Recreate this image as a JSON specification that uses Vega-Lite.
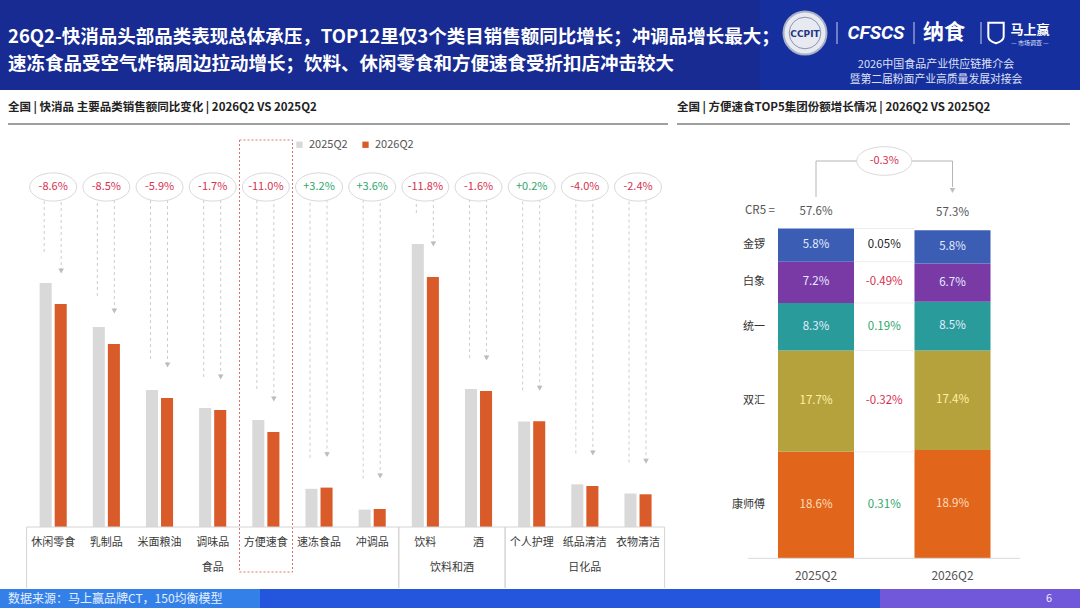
{
  "$schema": "https://vega.github.io/schema/vega-lite/v6.json",
  "padding": 0,
  "spacing": 0,
  "background": "white",
  "config": {
    "view": {"stroke": null},
    "font": "Noto Sans CJK SC"
  },
  "datasets": {
    "sales": [
      {"cat": "休闲零食", "series": "2025Q2", "value": 244}, {"cat": "休闲零食", "series": "2026Q2", "value": 223},
      {"cat": "乳制品", "series": "2025Q2", "value": 200}, {"cat": "乳制品", "series": "2026Q2", "value": 183},
      {"cat": "米面粮油", "series": "2025Q2", "value": 137}, {"cat": "米面粮油", "series": "2026Q2", "value": 129},
      {"cat": "调味品", "series": "2025Q2", "value": 119}, {"cat": "调味品", "series": "2026Q2", "value": 117},
      {"cat": "方便速食", "series": "2025Q2", "value": 107}, {"cat": "方便速食", "series": "2026Q2", "value": 95},
      {"cat": "速冻食品", "series": "2025Q2", "value": 38.2}, {"cat": "速冻食品", "series": "2026Q2", "value": 39.4},
      {"cat": "冲调品", "series": "2025Q2", "value": 17.4}, {"cat": "冲调品", "series": "2026Q2", "value": 18},
      {"cat": "饮料", "series": "2025Q2", "value": 283}, {"cat": "饮料", "series": "2026Q2", "value": 250},
      {"cat": "酒", "series": "2025Q2", "value": 138}, {"cat": "酒", "series": "2026Q2", "value": 136},
      {"cat": "个人护理", "series": "2025Q2", "value": 105.6}, {"cat": "个人护理", "series": "2026Q2", "value": 105.8},
      {"cat": "纸品清洁", "series": "2025Q2", "value": 42.7}, {"cat": "纸品清洁", "series": "2026Q2", "value": 41},
      {"cat": "衣物清洁", "series": "2025Q2", "value": 33.5}, {"cat": "衣物清洁", "series": "2026Q2", "value": 32.7}
    ],
    "yoy": [
      {"cat": "休闲零食", "group": "食品", "chg": -0.086},
      {"cat": "乳制品", "group": "食品", "chg": -0.085},
      {"cat": "米面粮油", "group": "食品", "chg": -0.059},
      {"cat": "调味品", "group": "食品", "chg": -0.017},
      {"cat": "方便速食", "group": "食品", "chg": -0.110},
      {"cat": "速冻食品", "group": "食品", "chg": 0.032},
      {"cat": "冲调品", "group": "食品", "chg": 0.036},
      {"cat": "饮料", "group": "饮料和酒", "chg": -0.118},
      {"cat": "酒", "group": "饮料和酒", "chg": -0.016},
      {"cat": "个人护理", "group": "日化品", "chg": 0.002},
      {"cat": "纸品清洁", "group": "日化品", "chg": -0.040},
      {"cat": "衣物清洁", "group": "日化品", "chg": -0.024}
    ],
    "groups": [
      {"group": "食品", "first": "休闲零食", "last": "冲调品", "anchor": "调味品"},
      {"group": "饮料和酒", "first": "饮料", "last": "酒", "anchor": "饮料"},
      {"group": "日化品", "first": "个人护理", "last": "衣物清洁", "anchor": "纸品清洁"}
    ],
    "share": [
      {"year": "2025Q2", "brand": "康师傅", "rank": 1, "share": 0.186, "chg": 0.0031},
      {"year": "2025Q2", "brand": "双汇", "rank": 2, "share": 0.177, "chg": -0.0032},
      {"year": "2025Q2", "brand": "统一", "rank": 3, "share": 0.083, "chg": 0.0019},
      {"year": "2025Q2", "brand": "白象", "rank": 4, "share": 0.072, "chg": -0.0049},
      {"year": "2025Q2", "brand": "金锣", "rank": 5, "share": 0.058, "chg": 0.0005},
      {"year": "2026Q2", "brand": "康师傅", "rank": 1, "share": 0.189, "chg": 0.0031},
      {"year": "2026Q2", "brand": "双汇", "rank": 2, "share": 0.174, "chg": -0.0032},
      {"year": "2026Q2", "brand": "统一", "rank": 3, "share": 0.085, "chg": 0.0019},
      {"year": "2026Q2", "brand": "白象", "rank": 4, "share": 0.067, "chg": -0.0049},
      {"year": "2026Q2", "brand": "金锣", "rank": 5, "share": 0.058, "chg": 0.0005}
    ],
    "cr5": [
      {"year": "2025Q2", "cr5": 0.576, "chg": -0.003},
      {"year": "2026Q2", "cr5": 0.573, "chg": -0.003}
    ]
  },
  "vconcat": [
    {
      "width": 1080,
      "height": 90,
      "data": {"values": [{}]},
      "layer": [
        {
          "mark": {"type": "rect", "color": "#182b92"},
          "encoding": {"x": {"value": 0}, "x2": {"value": 1080}, "y": {"value": 0}, "y2": {"value": 90}}
        },
        {
          "mark": {"type": "rect", "color": "#1632a6", "opacity": 0.6},
          "encoding": {"x": {"value": 760}, "x2": {"value": 1080}, "y": {"value": 0}, "y2": {"value": 90}}
        },
        {
          "data": {"values": [{"t": "26Q2-快消品头部品类表现总体承压，TOP12里仅3个类目销售额同比增长；冲调品增长最大；\n速冻食品受空气炸锅周边拉动增长；饮料、休闲零食和方便速食受折扣店冲击较大"}]},
          "mark": {"type": "text", "align": "left", "baseline": "middle", "fontSize": 18.5, "fontWeight": "bold", "color": "white", "lineHeight": 26.5, "lineBreak": "\n"},
          "encoding": {"x": {"value": 8}, "y": {"value": 37}, "text": {"field": "t"}}
        },
        {
          "mark": {"type": "point", "shape": "circle", "size": 1850, "filled": true, "fill": "#e8eaf2", "stroke": "#aab0c6", "strokeWidth": 2, "opacity": 1},
          "encoding": {"x": {"value": 805}, "y": {"value": 33}}
        },
        {
          "mark": {"type": "point", "shape": "circle", "size": 1000, "filled": false, "stroke": "#8d94ad", "strokeWidth": 1, "opacity": 1},
          "encoding": {"x": {"value": 805}, "y": {"value": 33}}
        },
        {
          "data": {"values": [{"t": "CCPIT"}]},
          "mark": {"type": "text", "fontSize": 9, "fontWeight": "bold", "font": "DejaVu Sans", "color": "#233580", "align": "center", "baseline": "middle"},
          "encoding": {"x": {"value": 805}, "y": {"value": 33.5}, "text": {"field": "t"}}
        },
        {
          "mark": {"type": "rule", "color": "#c8cdf0", "strokeWidth": 1},
          "encoding": {"x": {"value": 837}, "y": {"value": 22}, "y2": {"value": 44}}
        },
        {
          "mark": {"type": "rule", "color": "#c8cdf0", "strokeWidth": 1},
          "encoding": {"x": {"value": 914}, "y": {"value": 22}, "y2": {"value": 44}}
        },
        {
          "mark": {"type": "rule", "color": "#c8cdf0", "strokeWidth": 1},
          "encoding": {"x": {"value": 981}, "y": {"value": 22}, "y2": {"value": 44}}
        },
        {
          "data": {"values": [{"t": "CFSCS"}]},
          "mark": {"type": "text", "fontSize": 19, "fontWeight": "bold", "fontStyle": "italic", "font": "Roboto", "color": "white", "align": "center", "baseline": "middle"},
          "encoding": {"x": {"value": 876}, "y": {"value": 33}, "text": {"field": "t"}}
        },
        {
          "data": {"values": [{"t": "纳食"}]},
          "mark": {"type": "text", "fontSize": 21, "fontWeight": "bold", "color": "white", "align": "center", "baseline": "middle"},
          "encoding": {"x": {"value": 944}, "y": {"value": 33}, "text": {"field": "t"}}
        },
        {
          "mark": {"type": "point", "shape": "M -0.75 -1 L 0.75 -1 L 0.75 0.35 Q 0.75 0.8 0 1 Q -0.75 0.8 -0.75 0.35 Z", "size": 420, "filled": false, "stroke": "white", "strokeWidth": 2, "opacity": 1},
          "encoding": {"x": {"value": 996}, "y": {"value": 33}}
        },
        {
          "data": {"values": [{"t": "马上赢"}]},
          "mark": {"type": "text", "fontSize": 13, "fontWeight": "bold", "color": "white", "align": "center", "baseline": "middle"},
          "encoding": {"x": {"value": 1030}, "y": {"value": 30}, "text": {"field": "t"}}
        },
        {
          "data": {"values": [{"t": "— 市场调查 —"}]},
          "mark": {"type": "text", "fontSize": 6, "color": "#dfe3ff", "align": "center", "baseline": "middle"},
          "encoding": {"x": {"value": 1030}, "y": {"value": 43}, "text": {"field": "t"}}
        },
        {
          "data": {"values": [{"t": "2026中国食品产业供应链推介会"}]},
          "mark": {"type": "text", "fontSize": 11, "color": "#dde1f7", "align": "center", "baseline": "middle"},
          "encoding": {"x": {"value": 936}, "y": {"value": 65}, "text": {"field": "t"}}
        },
        {
          "data": {"values": [{"t": "暨第二届粉面产业高质量发展对接会"}]},
          "mark": {"type": "text", "fontSize": 10.8, "color": "#dde1f7", "align": "center", "baseline": "middle"},
          "encoding": {"x": {"value": 936}, "y": {"value": 80}, "text": {"field": "t"}}
        }
      ]
    },
    {
      "spacing": 0,
      "resolve": {"scale": {"color": "independent"}, "legend": {"color": "independent"}},
      "hconcat": [
        {
          "width": 672,
          "height": 499,
          "layer": [
            {
              "data": {"name": "sales"},
              "mark": {"type": "bar"},
              "encoding": {
                "x": {
                  "field": "cat", "type": "nominal", "axis": null,
                  "scale": {"domain": ["休闲零食", "乳制品", "米面粮油", "调味品", "方便速食", "速冻食品", "冲调品", "饮料", "酒", "个人护理", "纸品清洁", "衣物清洁"], "range": [26.6, 664.6], "paddingInner": 0.49, "paddingOuter": 0.245}
                },
                "xOffset": {"field": "series", "type": "nominal", "scale": {"domain": ["2025Q2", "2026Q2"], "paddingInner": 0.2, "paddingOuter": 0}},
                "y": {"field": "value", "type": "quantitative", "axis": null, "scale": {"domain": [0, 400], "range": [437, 37], "nice": false}},
                "color": {
                  "field": "series", "type": "nominal",
                  "scale": {"domain": ["2025Q2", "2026Q2"], "range": ["#d9d9d9", "#d95b29"]},
                  "legend": {"orient": "none", "legendX": 294, "legendY": 49, "direction": "horizontal", "title": null, "symbolType": "square", "symbolSize": 40, "symbolStrokeWidth": 0, "labelFontSize": 11, "labelColor": "#555555", "columnPadding": 12}
                }
              }
            },
            {
              "data": {"name": "sales"},
              "transform": [{"filter": "datum.series === '2025Q2'"}],
              "mark": {"type": "rule", "color": "#cdcdcd", "strokeWidth": 1, "strokeDash": [3, 3], "xOffset": -9, "yOffset": -31},
              "encoding": {
                "x": {"field": "cat", "type": "nominal"},
                "y": {"field": "value", "type": "quantitative"},
                "y2": {"value": 110}
              }
            },
            {
              "data": {"name": "sales"},
              "transform": [{"filter": "datum.series === '2026Q2'"}],
              "mark": {"type": "rule", "color": "#cdcdcd", "strokeWidth": 1, "strokeDash": [3, 3], "xOffset": 8, "yOffset": -33},
              "encoding": {
                "x": {"field": "cat", "type": "nominal"},
                "y": {"field": "value", "type": "quantitative"},
                "y2": {"value": 110}
              }
            },
            {
              "data": {"name": "sales"},
              "transform": [{"filter": "datum.series === '2026Q2'"}],
              "mark": {"type": "point", "shape": "triangle-down", "filled": true, "color": "#bdbdbd", "size": 32, "opacity": 1, "xOffset": 8, "yOffset": -33},
              "encoding": {
                "x": {"field": "cat", "type": "nominal"},
                "y": {"field": "value", "type": "quantitative"}
              }
            },
            {
              "data": {"values": [{"t": "全国 | 快消品 主要品类销售额同比变化 | 2026Q2 VS 2025Q2"}]},
              "mark": {"type": "text", "align": "left", "baseline": "middle", "fontSize": 11.5, "fontWeight": "bold", "color": "#222222"},
              "encoding": {"x": {"value": 8}, "y": {"value": 18}, "text": {"field": "t"}}
            },
            {
              "data": {"values": [{}]},
              "mark": {"type": "rule", "color": "#808080", "strokeWidth": 1.5},
              "encoding": {"x": {"value": 8}, "x2": {"value": 668}, "y": {"value": 34}}
            },
            {
              "data": {"values": [{}]},
              "mark": {"type": "rect", "fill": "white", "fillOpacity": 0, "stroke": "#e07070", "strokeWidth": 1, "strokeDash": [2, 2]},
              "encoding": {"x": {"value": 239.5}, "x2": {"value": 292.5}, "y": {"value": 50}, "y2": {"value": 482}}
            },
            {
              "data": {"name": "groups"},
              "mark": {"type": "rule", "color": "#d4d4d4", "strokeWidth": 1, "xOffset": -26.6},
              "encoding": {"x": {"field": "first", "type": "nominal"}, "y": {"value": 437}, "y2": {"value": 498}}
            },
            {
              "data": {"name": "groups"},
              "mark": {"type": "rule", "color": "#d4d4d4", "strokeWidth": 1, "xOffset": 26.6},
              "encoding": {"x": {"field": "last", "type": "nominal"}, "y": {"value": 437}, "y2": {"value": 498}}
            },
            {
              "data": {"values": [{}]},
              "mark": {"type": "rule", "color": "#d4d4d4", "strokeWidth": 1},
              "encoding": {"x": {"value": 26.6}, "x2": {"value": 664.6}, "y": {"value": 437}}
            },
            {
              "data": {"name": "yoy"},
              "mark": {"type": "point", "shape": "M -1 0 A 1 0.6 0 1 0 1 0 A 1 0.6 0 1 0 -1 0 Z", "size": 2209, "filled": true, "fill": "white", "stroke": "#d9d9d9", "strokeWidth": 1, "opacity": 1},
              "encoding": {"x": {"field": "cat", "type": "nominal"}, "y": {"datum": 340, "type": "quantitative"}}
            },
            {
              "data": {"name": "yoy"},
              "transform": [
                {"filter": "datum.chg < 0"},
                {"calculate": "replace(format(datum.chg, '+.1%'), '\u2212', '-')", "as": "label"}
              ],
              "mark": {"type": "text", "fontSize": 11, "align": "center", "baseline": "middle", "color": "#d6314f"},
              "encoding": {
                "x": {"field": "cat", "type": "nominal"},
                "y": {"datum": 340, "type": "quantitative"},
                "text": {"field": "label"}
              }
            },
            {
              "data": {"name": "yoy"},
              "transform": [
                {"filter": "datum.chg >= 0"},
                {"calculate": "format(datum.chg, '+.1%')", "as": "label"}
              ],
              "mark": {"type": "text", "fontSize": 11, "align": "center", "baseline": "middle", "color": "#2ea66c"},
              "encoding": {
                "x": {"field": "cat", "type": "nominal"},
                "y": {"datum": 340, "type": "quantitative"},
                "text": {"field": "label"}
              }
            },
            {
              "data": {"name": "yoy"},
              "mark": {"type": "text", "fontSize": 11, "color": "#3a3a3a", "align": "center", "baseline": "middle"},
              "encoding": {"x": {"field": "cat", "type": "nominal"}, "y": {"datum": -16, "type": "quantitative"}, "text": {"field": "cat"}}
            },
            {
              "data": {"name": "groups"},
              "transform": [{"filter": "datum.group !== '饮料和酒'"}],
              "mark": {"type": "text", "fontSize": 11, "color": "#3a3a3a", "align": "center", "baseline": "middle"},
              "encoding": {"x": {"field": "anchor", "type": "nominal"}, "y": {"datum": -41, "type": "quantitative"}, "text": {"field": "group"}}
            },
            {
              "data": {"name": "groups"},
              "transform": [{"filter": "datum.group === '饮料和酒'"}],
              "mark": {"type": "text", "fontSize": 11, "color": "#3a3a3a", "align": "center", "baseline": "middle", "dx": 26.6},
              "encoding": {"x": {"field": "anchor", "type": "nominal"}, "y": {"datum": -41, "type": "quantitative"}, "text": {"field": "group"}}
            }
          ]
        },
        {
          "width": 408,
          "height": 499,
          "layer": [
            {
              "data": {"name": "share"},
              "transform": [
                {"stack": "share", "groupby": ["year"], "sort": [{"field": "rank", "order": "ascending"}], "as": ["s0", "s1"]}
              ],
              "mark": {"type": "bar"},
              "encoding": {
                "x": {"field": "year", "type": "nominal", "axis": null, "scale": {"domain": ["2025Q2", "2026Q2"], "range": [75.75, 348.75], "paddingInner": 0.443, "paddingOuter": 0.2215}},
                "y": {"field": "s0", "type": "quantitative", "axis": null, "scale": {"domain": [0, 0.8], "range": [468.3, 10.3], "nice": false}},
                "y2": {"field": "s1"},
                "color": {
                  "field": "brand", "type": "nominal", "legend": null,
                  "scale": {"domain": ["金锣", "白象", "统一", "双汇", "康师傅"], "range": ["#3b5db3", "#7a3aa6", "#2a9b9b", "#b6a23c", "#e1661b"]}
                }
              }
            },
            {
              "data": {"values": [{"t": "全国 | 方便速食TOP5集团份额增长情况 | 2026Q2 VS 2025Q2"}]},
              "mark": {"type": "text", "align": "left", "baseline": "middle", "fontSize": 11.5, "fontWeight": "bold", "color": "#222222"},
              "encoding": {"x": {"value": 5}, "y": {"value": 18}, "text": {"field": "t"}}
            },
            {
              "data": {"values": [{}]},
              "mark": {"type": "rule", "color": "#808080", "strokeWidth": 1.5},
              "encoding": {"x": {"value": 5}, "x2": {"value": 398}, "y": {"value": 34}}
            },
            {
              "data": {"name": "cr5"},
              "transform": [{"filter": "datum.year === '2025Q2'"}],
              "mark": {"type": "rule", "color": "#b5b5b5", "strokeWidth": 1},
              "encoding": {"x": {"field": "year", "type": "nominal"}, "y": {"value": 71}, "y2": {"value": 107}}
            },
            {
              "data": {"values": [{}]},
              "mark": {"type": "rule", "color": "#b5b5b5", "strokeWidth": 1},
              "encoding": {"x": {"value": 144}, "x2": {"value": 280.5}, "y": {"value": 71}}
            },
            {
              "data": {"name": "cr5"},
              "transform": [{"filter": "datum.year === '2026Q2'"}],
              "mark": {"type": "rule", "color": "#b5b5b5", "strokeWidth": 1},
              "encoding": {"x": {"field": "year", "type": "nominal"}, "y": {"value": 71}, "y2": {"value": 97}}
            },
            {
              "data": {"name": "cr5"},
              "transform": [{"filter": "datum.year === '2026Q2'"}],
              "mark": {"type": "point", "shape": "triangle-down", "filled": true, "color": "#bdbdbd", "size": 32, "opacity": 1},
              "encoding": {"x": {"field": "year", "type": "nominal"}, "y": {"value": 100.5}}
            },
            {
              "data": {"name": "cr5"},
              "transform": [{"filter": "datum.year === '2025Q2'"}],
              "mark": {"type": "point", "shape": "M -1 0 A 1 0.52 0 1 0 1 0 A 1 0.52 0 1 0 -1 0 Z", "size": 3025, "filled": true, "fill": "white", "stroke": "#d9d9d9", "strokeWidth": 1, "opacity": 1, "xOffset": 68.25},
              "encoding": {"x": {"field": "year", "type": "nominal"}, "y": {"value": 71}}
            },
            {
              "data": {"name": "cr5"},
              "transform": [
                {"filter": "datum.year === '2025Q2'"},
                {"calculate": "replace(format(datum.chg, '.1%'), '\u2212', '-')", "as": "label"}
              ],
              "mark": {"type": "text", "fontSize": 11, "color": "#d6314f", "align": "center", "baseline": "middle", "dx": 68.25},
              "encoding": {"x": {"field": "year", "type": "nominal"}, "y": {"value": 71}, "text": {"field": "label"}}
            },
            {
              "data": {"name": "cr5"},
              "transform": [
                {"filter": "datum.year === '2025Q2'"},
                {"calculate": "'CR5 ='", "as": "label"}
              ],
              "mark": {"type": "text", "fontSize": 11.5, "color": "#555555", "align": "left", "baseline": "middle", "dx": -71},
              "encoding": {"x": {"field": "year", "type": "nominal"}, "y": {"datum": 0.606, "type": "quantitative"}, "text": {"field": "label"}}
            },
            {
              "data": {"name": "cr5"},
              "mark": {"type": "text", "fontSize": 11.5, "color": "#555555", "align": "center", "baseline": "middle", "yOffset": -17},
              "encoding": {"x": {"field": "year", "type": "nominal"}, "y": {"field": "cr5", "type": "quantitative"}, "text": {"field": "cr5", "type": "quantitative", "format": ".1%"}}
            },
            {
              "data": {"name": "share"},
              "transform": [
                {"stack": "share", "groupby": ["year"], "sort": [{"field": "rank", "order": "ascending"}], "as": ["s0", "s1"]},
                {"filter": "datum.year === '2025Q2'"}
              ],
              "mark": {"type": "rule", "color": "#eeeeee", "strokeWidth": 1},
              "encoding": {"x": {"value": 182}, "x2": {"value": 242.5}, "y": {"field": "s1", "type": "quantitative"}}
            },
            {
              "data": {"name": "share"},
              "transform": [
                {"stack": "share", "groupby": ["year"], "sort": [{"field": "rank", "order": "ascending"}], "as": ["s0", "s1"]},
                {"calculate": "(datum.s0 + datum.s1) / 2", "as": "mid"},
                {"filter": "datum.rank >= 3"}
              ],
              "mark": {"type": "text", "fontSize": 11.5, "align": "center", "baseline": "middle", "color": "#e3ecff"},
              "encoding": {
                "x": {"field": "year", "type": "nominal"},
                "y": {"field": "mid", "type": "quantitative"},
                "text": {"field": "share", "type": "quantitative", "format": ".1%"}
              }
            },
            {
              "data": {"name": "share"},
              "transform": [
                {"stack": "share", "groupby": ["year"], "sort": [{"field": "rank", "order": "ascending"}], "as": ["s0", "s1"]},
                {"calculate": "(datum.s0 + datum.s1) / 2", "as": "mid"},
                {"filter": "datum.rank === 2"}
              ],
              "mark": {"type": "text", "fontSize": 11.5, "align": "center", "baseline": "middle", "color": "#fff0a6"},
              "encoding": {
                "x": {"field": "year", "type": "nominal"},
                "y": {"field": "mid", "type": "quantitative"},
                "text": {"field": "share", "type": "quantitative", "format": ".1%"}
              }
            },
            {
              "data": {"name": "share"},
              "transform": [
                {"stack": "share", "groupby": ["year"], "sort": [{"field": "rank", "order": "ascending"}], "as": ["s0", "s1"]},
                {"calculate": "(datum.s0 + datum.s1) / 2", "as": "mid"},
                {"filter": "datum.rank === 1"}
              ],
              "mark": {"type": "text", "fontSize": 11.5, "align": "center", "baseline": "middle", "color": "#ffdcbd"},
              "encoding": {
                "x": {"field": "year", "type": "nominal"},
                "y": {"field": "mid", "type": "quantitative"},
                "text": {"field": "share", "type": "quantitative", "format": ".1%"}
              }
            },
            {
              "data": {"name": "share"},
              "transform": [
                {"stack": "share", "groupby": ["year"], "sort": [{"field": "rank", "order": "ascending"}], "as": ["s0", "s1"]},
                {"calculate": "(datum.s0 + datum.s1) / 2", "as": "mid"},
                {"filter": "datum.year === '2025Q2'"}
              ],
              "mark": {"type": "text", "fontSize": 11, "color": "#333333", "align": "right", "baseline": "middle", "dx": -51},
              "encoding": {"x": {"field": "year", "type": "nominal"}, "y": {"field": "mid", "type": "quantitative"}, "text": {"field": "brand"}}
            },
            {
              "data": {"name": "share"},
              "transform": [
                {"stack": "share", "groupby": ["year"], "sort": [{"field": "rank", "order": "ascending"}], "as": ["s0", "s1"]},
                {"calculate": "(datum.s0 + datum.s1) / 2", "as": "mid"},
                {"filter": "datum.year === '2025Q2' && datum.chg < 0"},
                {"calculate": "replace(format(datum.chg, '.2%'), '\u2212', '-')", "as": "label"}
              ],
              "mark": {"type": "text", "fontSize": 11.5, "align": "center", "baseline": "middle", "dx": 68.25, "color": "#d6314f"},
              "encoding": {"x": {"field": "year", "type": "nominal"}, "y": {"field": "mid", "type": "quantitative"}, "text": {"field": "label"}}
            },
            {
              "data": {"name": "share"},
              "transform": [
                {"stack": "share", "groupby": ["year"], "sort": [{"field": "rank", "order": "ascending"}], "as": ["s0", "s1"]},
                {"calculate": "(datum.s0 + datum.s1) / 2", "as": "mid"},
                {"filter": "datum.year === '2025Q2' && datum.chg >= 0.001"}
              ],
              "mark": {"type": "text", "fontSize": 11.5, "align": "center", "baseline": "middle", "dx": 68.25, "color": "#2ea66c"},
              "encoding": {"x": {"field": "year", "type": "nominal"}, "y": {"field": "mid", "type": "quantitative"}, "text": {"field": "chg", "type": "quantitative", "format": ".2%"}}
            },
            {
              "data": {"name": "share"},
              "transform": [
                {"stack": "share", "groupby": ["year"], "sort": [{"field": "rank", "order": "ascending"}], "as": ["s0", "s1"]},
                {"calculate": "(datum.s0 + datum.s1) / 2", "as": "mid"},
                {"filter": "datum.year === '2025Q2' && datum.chg >= 0 && datum.chg < 0.001"}
              ],
              "mark": {"type": "text", "fontSize": 11.5, "align": "center", "baseline": "middle", "dx": 68.25, "color": "#222222"},
              "encoding": {"x": {"field": "year", "type": "nominal"}, "y": {"field": "mid", "type": "quantitative"}, "text": {"field": "chg", "type": "quantitative", "format": ".2%"}}
            },
            {
              "data": {"values": [{}]},
              "mark": {"type": "rule", "color": "#d9d9d9", "strokeWidth": 1},
              "encoding": {"x": {"value": 76}, "x2": {"value": 348}, "y": {"value": 468.3}}
            },
            {
              "data": {"name": "cr5"},
              "mark": {"type": "text", "fontSize": 12, "color": "#555555", "align": "center", "baseline": "middle"},
              "encoding": {"x": {"field": "year", "type": "nominal"}, "y": {"datum": -0.0314, "type": "quantitative"}, "text": {"field": "year"}}
            }
          ]
        }
      ]
    },
    {
      "width": 1080,
      "height": 19,
      "data": {"values": [{}]},
      "layer": [
        {
          "mark": {"type": "rect", "color": "#2356dc"},
          "encoding": {"x": {"value": 0}, "x2": {"value": 1080}, "y": {"value": 0}, "y2": {"value": 19}}
        },
        {
          "mark": {"type": "rect", "color": "#3a93ec", "opacity": 0.7},
          "encoding": {"x": {"value": 0}, "x2": {"value": 260}, "y": {"value": 0}, "y2": {"value": 19}}
        },
        {
          "mark": {"type": "rect", "color": "#8457d8", "opacity": 0.8},
          "encoding": {"x": {"value": 880}, "x2": {"value": 1080}, "y": {"value": 0}, "y2": {"value": 19}}
        },
        {
          "data": {"values": [{"t": "数据来源：马上赢品牌CT，150均衡模型"}]},
          "mark": {"type": "text", "fontSize": 12, "color": "#e6efff", "align": "left", "baseline": "middle"},
          "encoding": {"x": {"value": 8}, "y": {"value": 9.5}, "text": {"field": "t"}}
        },
        {
          "data": {"values": [{"t": "6"}]},
          "mark": {"type": "text", "fontSize": 11, "color": "#f0ecff", "align": "center", "baseline": "middle"},
          "encoding": {"x": {"value": 1049}, "y": {"value": 9.5}, "text": {"field": "t"}}
        }
      ]
    }
  ]
}
